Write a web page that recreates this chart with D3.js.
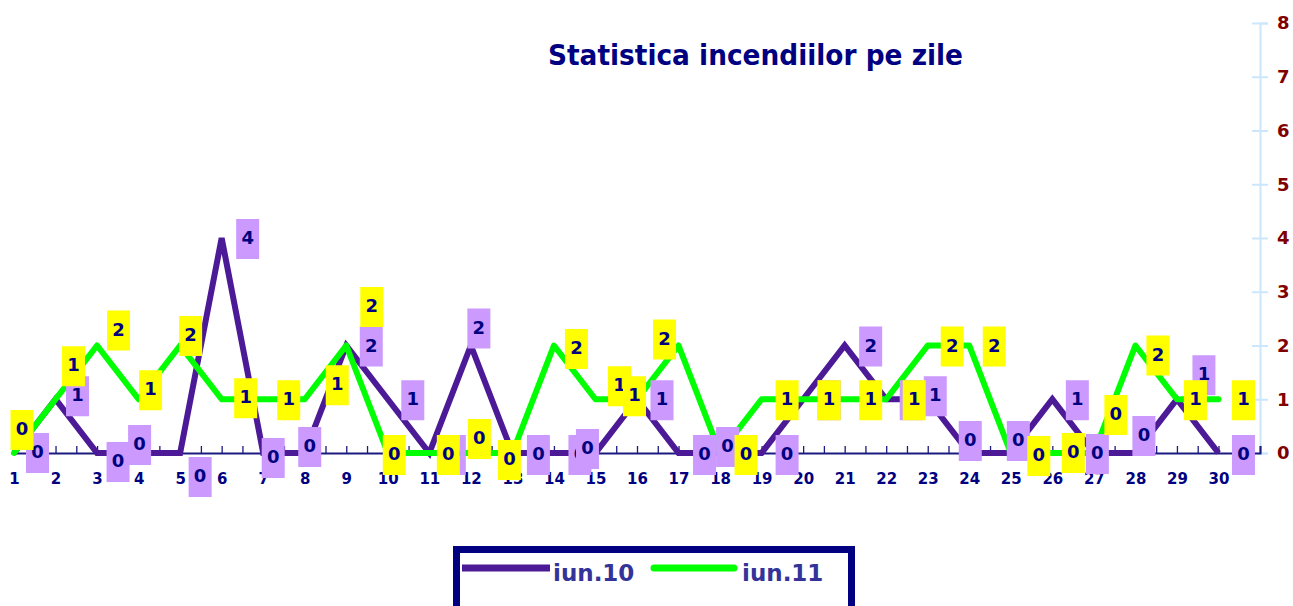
<!DOCTYPE html>
<html><head><meta charset="utf-8">
<script src="https://cdn.jsdelivr.net/npm/d3@7"></script>
<style>html,body{margin:0;padding:0;background:#fff;overflow:hidden}</style>
</head><body>
<svg id="chart" width="1293" height="606"></svg>
<script>
const days = d3.range(1, 31);
const seriesNames = ["iun.10", "iun.11"];
const iun10 = [0,1,0,0,0,4,0,0,2,1,0,2,0,0,0,1,0,0,0,1,2,1,1,0,0,1,0,0,1,0];
const iun11 = [0,1,2,1,2,1,1,1,2,0,0,0,0,2,1,1,2,0,1,1,1,1,2,2,0,0,0,2,1,1];
const yTicks = [0,1,2,3,4,5,6,7,8];
const title = "Statistica incendiilor pe zile";
// manual label placement (pixel offsets from each point), as in the original chart
const labelOffsets10 = [[23.5,0],[22,-3],[21,9],[1,-8],[20,24],[26,1],[10,5],[5,-6],[25,1],[25,1],[25,2],[8,-17],[26,2],[26,2],[-8,-4],[25,1],[26,2],[7.5,-6],[25.5,2],[26,1],[26,1],[25,1],[7.5,-3],[1,-12],[7.5,-12],[25,1],[3.5,1],[8.5,-17],[27,-24],[25,2]];
const labelOffsets11 = [[8,-23],[18,-33],[21.5,-15],[12,-9],[10.5,-9.5],[24,-1],[25.5,1],[32.5,-14],[25.5,-38.5],[6.5,2],[19,2],[8.5,-14],[-3,7],[22.5,3.5],[24,-13],[-2.5,-3],[-14,-6],[26,2],[25.5,1],[26,1],[26,1],[28,1],[24.5,1],[25,1],[28,3],[21,0],[22,-38],[22.5,10],[18.5,1],[25,1]];

const svg = d3.select("#chart");
const FONT = "'DejaVu Sans', Verdana, sans-serif";
const x = d3.scaleLinear().domain([1, 31]).range([14, 1260]);
const y = d3.scaleLinear().domain([0, 8]).range([453, 23]);

// title
svg.append("text").attr("x", 548).attr("y", 65)
  .attr("font-family", FONT).attr("font-weight", "bold").attr("font-size", 29)
  .attr("fill", "#000080").attr("textLength", 415).attr("lengthAdjust", "spacingAndGlyphs")
  .text(title);

// right axis
const yAxis = svg.append("g").attr("transform", "translate(1260,0)")
  .call(d3.axisRight(y).tickValues(yTicks).tickSize(8).tickPadding(9).tickFormat(d3.format("d")));
yAxis.select(".domain").attr("stroke", "#cce6fb").attr("stroke-width", 2);
yAxis.selectAll(".tick line").attr("x1", -8).attr("stroke", "#cce6fb").attr("stroke-width", 2);
yAxis.selectAll(".tick text").attr("font-family", FONT).attr("font-weight", "bold")
  .attr("font-size", 18).attr("fill", "#800000");

// x axis minor ticks (every half day)
const minor = d3.range(1, 31.01, 0.5);
const xMinor = svg.append("g").attr("transform", `translate(0,${y(0)})`)
  .call(d3.axisTop(x).tickValues(minor).tickSize(7).tickFormat(""));
xMinor.select(".domain").attr("stroke", "#1a1a80").attr("stroke-width", 2);
xMinor.selectAll(".tick line").attr("stroke", "#1a1a80").attr("stroke-width", 1.3);

// x axis labels
const xAxis = svg.append("g").attr("transform", `translate(0,${y(0)})`)
  .call(d3.axisBottom(x).tickValues(days).tickSize(0).tickPadding(20).tickFormat(d3.format("d")));
xAxis.select(".domain").remove();
xAxis.selectAll(".tick text").attr("font-family", FONT).attr("font-weight", "bold")
  .attr("font-size", 15).attr("fill", "#000080");

// lines
const line = d3.line().x((d, i) => x(days[i])).y(d => y(d));
svg.append("path").datum(iun10).attr("d", line).attr("fill", "none")
  .attr("stroke", "#4c1a96").attr("stroke-width", 6).attr("stroke-linejoin", "miter");
svg.append("path").datum(iun11).attr("d", line).attr("fill", "none")
  .attr("stroke", "#00ff00").attr("stroke-width", 6).attr("stroke-linejoin", "round").attr("stroke-linecap", "round");

// data labels
function labels(values, offsets, fill) {
  const g = svg.append("g");
  const lg = g.selectAll("g").data(values).join("g")
    .attr("transform", (d, i) => `translate(${x(days[i]) + offsets[i][0]},${y(d) + offsets[i][1]})`);
  lg.append("rect").attr("x", -11.5).attr("y", -20).attr("width", 23).attr("height", 40).attr("fill", fill);
  lg.append("text").attr("text-anchor", "middle").attr("y", 5)
    .attr("font-family", FONT).attr("font-weight", "bold").attr("font-size", 18)
    .attr("fill", "#000080").text(d => d);
}
labels(iun10, labelOffsets10, "#cc99ff");
labels(iun11, labelOffsets11, "#ffff00");

// legend
const lg = svg.append("g");
lg.append("rect").attr("x", 456.5).attr("y", 549.5).attr("width", 395).attr("height", 80)
  .attr("fill", "#fff").attr("stroke", "#000080").attr("stroke-width", 7);
const items = [{name: seriesNames[0], color: "#4c1a96", x0: 462, cap: "butt"}, {name: seriesNames[1], color: "#00ff00", x0: 654, cap: "round"}];
items.forEach(it => {
  lg.append("line").attr("x1", it.x0).attr("x2", it.x0 + (it.cap === "round" ? 80 : 88)).attr("y1", 568).attr("y2", 568)
    .attr("stroke", it.color).attr("stroke-width", 7).attr("stroke-linecap", it.cap);
  lg.append("text").attr("x", it.cap === "round" ? 742 : 553).attr("y", 581)
    .attr("font-family", FONT).attr("font-weight", "bold").attr("font-size", 23)
    .attr("fill", "#333399").text(it.name);
});
</script>
</body></html>
